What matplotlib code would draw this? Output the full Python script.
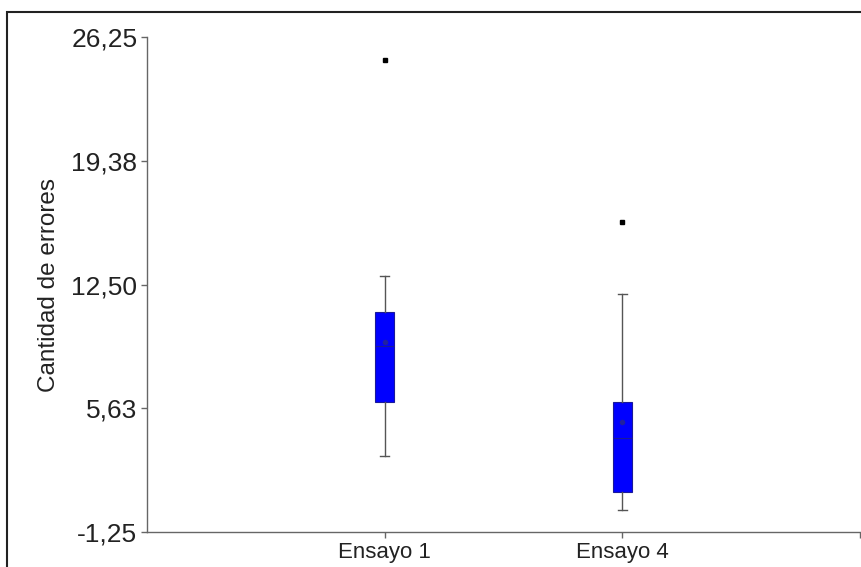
import matplotlib.pyplot as plt
from matplotlib.patches import Rectangle

plt.rcParams['font.family'] = ['Liberation Sans', 'DejaVu Sans']

labels = ["Ensayo 1", "Ensayo 4"]
whislo = [3.0, 0.0]
q1 = [6.0, 1.0]
med = [9.1, 4.0]
q3 = [11.0, 6.0]
whishi = [13.0, 12.0]
means = [9.3, 4.85]
fliers = [[25.0], [16.0]]
yticks = [-1.25, 5.63, 12.50, 19.38, 26.25]

stats = []
for i in range(len(labels)):
    stats.append(dict(label=labels[i], whislo=whislo[i], q1=q1[i], med=med[i],
                      q3=q3[i], whishi=whishi[i], mean=means[i], fliers=fliers[i]))

fig = plt.figure(figsize=(8.61, 5.67), dpi=100)
ax = fig.add_axes([0.1707, 0.0617, 0.828, 0.873])

ax.bxp(stats, positions=[1, 2], widths=0.078, patch_artist=True, showmeans=True,
       boxprops=dict(facecolor='#0000ff', edgecolor='#1a1a9a', linewidth=0.8),
       medianprops=dict(color='#1a1a9a', linewidth=0.8),
       meanprops=dict(marker='o', markersize=3, markerfacecolor='#2020a0',
                      markeredgecolor='#2020a0'),
       whiskerprops=dict(color='#555555', linewidth=1.0),
       capprops=dict(color='#555555', linewidth=1.0),
       flierprops=dict(marker='s', markersize=3, markerfacecolor='black',
                       markeredgecolor='black'))

ax.set_xlim(0, 3)
ax.set_ylim(-1.25, 26.25)
ax.set_yticks(yticks)
ax.set_yticklabels([f"{v:.2f}".replace('.', ',') for v in yticks], fontsize=19)
ax.set_xticks([1, 2, 3])
ax.set_xticklabels(labels + [""], fontsize=16)
ax.set_ylabel("Cantidad de errores", fontsize=17.5, color='#222222', labelpad=8)

for s in ['top', 'right']:
    ax.spines[s].set_visible(False)
for s in ['left', 'bottom']:
    ax.spines[s].set_color('#666666')
    ax.spines[s].set_linewidth(1.0)
ax.tick_params(colors='#666666', length=4, width=1.0, labelcolor='#222222', pad=3)

# outer frame
fig.patches.append(Rectangle((7 / 861, -0.1), 1.2, 1 - 12 / 567 + 0.1,
                             transform=fig.transFigure, fill=False,
                             edgecolor='#222222', linewidth=1.5))

fig.savefig("out.png", dpi=100)
